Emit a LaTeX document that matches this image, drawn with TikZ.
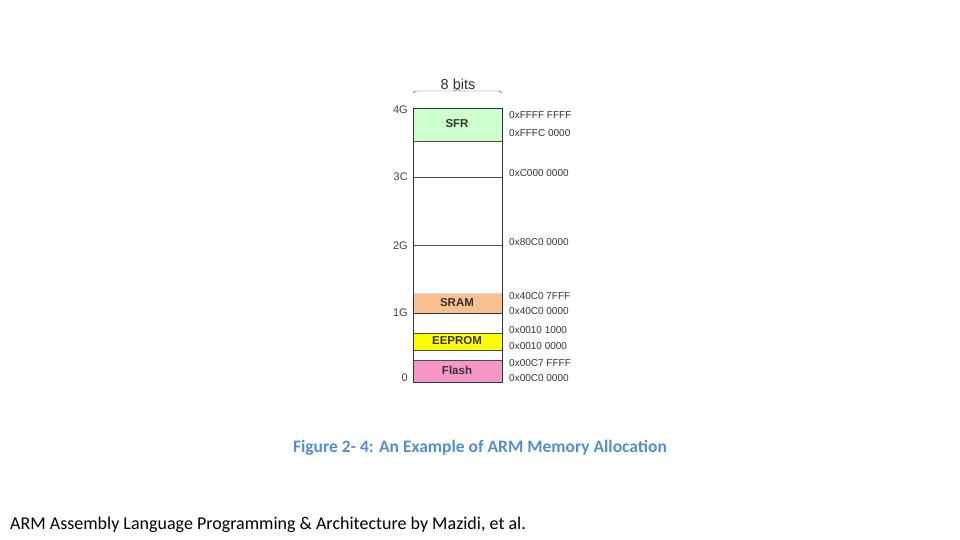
\documentclass[tikz,border=0pt]{standalone}
\usepackage{fontspec}
\setmainfont{Carlito}
\newfontfamily\arialf{Liberation Sans}
\usetikzlibrary{decorations.pathreplacing}
\definecolor{sfr}{RGB}{204,255,204}
\definecolor{sram}{RGB}{250,192,144}
\definecolor{eep}{RGB}{255,255,0}
\definecolor{flash}{RGB}{247,150,200}
\definecolor{capblue}{RGB}{84,141,212}
\begin{document}
\begin{tikzpicture}[x=1pt,y=-1pt,
  addr/.style={anchor=west,font=\arialf\fontsize{10}{11}\selectfont,text=black!80,inner sep=0},
  gl/.style={anchor=east,font=\arialf\fontsize{11}{12}\selectfont,text=black!75,inner sep=0},
  seg/.style={draw=black!70,line width=0.5pt},
  lab/.style={font=\arialf\bfseries\fontsize{11.5}{13}\selectfont,text=black!80}]
\useasboundingbox (0,0) rectangle (960,540);
\fill[sfr] (413,108) rectangle (502,141);
\fill[sram] (413,293) rectangle (502,313);
\fill[eep] (413,333) rectangle (502,350);
\fill[flash] (413,360) rectangle (502,382);
\draw[seg] (413,141) -- (502,141);
\draw[seg] (413,177) -- (502,177);
\draw[seg] (413,245) -- (502,245);
\draw[draw=black!15] (413,293) -- (502,293);
\draw[draw=black!80,line width=1pt] (413,313) -- (502,313);
\draw[seg] (413,333) -- (502,333) (413,350) -- (502,350) (413,360) -- (502,360);
\node[draw=black!80,line width=0.7pt,minimum width=89pt,minimum height=274pt,inner sep=0,anchor=north west] (mem) at (413,108) {};
\node[lab] (sfrl) at (457,124) {SFR};
\node[lab] (srl) at (457,303) {SRAM};
\node[lab] (eel) at (457,341) {EEPROM};
\node[lab] (fll) at (457,370) {Flash};
\draw[decorate,decoration={brace,amplitude=4pt},draw=black!70] (413,93) -- (502,93);
\node[font=\arialf\fontsize{14.5}{16}\selectfont,text=black!80] (bits) at (458,84) {8 bits};
\node[gl] (g4) at (408,110) {4G};
\node[gl] (g3) at (408,177) {3C};
\node[gl] (g2) at (408,246) {2G};
\node[gl] (g1) at (408,313) {1G};
\node[gl] (g0) at (408,378) {0};
\node[addr] (a1) at (509,115) {0xFFFF FFFF};
\node[addr] (a2) at (509,133) {0xFFFC 0000};
\node[addr] (a3) at (509,173) {0xC000 0000};
\node[addr] (a4) at (509,242) {0x80C0 0000};
\node[addr] (a5) at (509,296) {0x40C0 7FFF};
\node[addr] (a6) at (509,311) {0x40C0 0000};
\node[addr] (a7) at (509,330) {0x0010 1000};
\node[addr] (a8) at (509,346) {0x0010 0000};
\node[addr] (a9) at (509,363) {0x00C7 FFFF};
\node[addr] (a10) at (509,378) {0x00C0 0000};
\node[font=\bfseries\fontsize{17.5}{20}\selectfont,text=capblue] (cap) at (480,448) {Figure 2- 4: An Example of ARM Memory Allocation};
\node[anchor=west,font=\fontsize{18}{20}\selectfont,inner sep=0] (foot) at (10,525) {ARM Assembly Language Programming \& Architecture by Mazidi, et al.};
\end{tikzpicture}
\end{document}
